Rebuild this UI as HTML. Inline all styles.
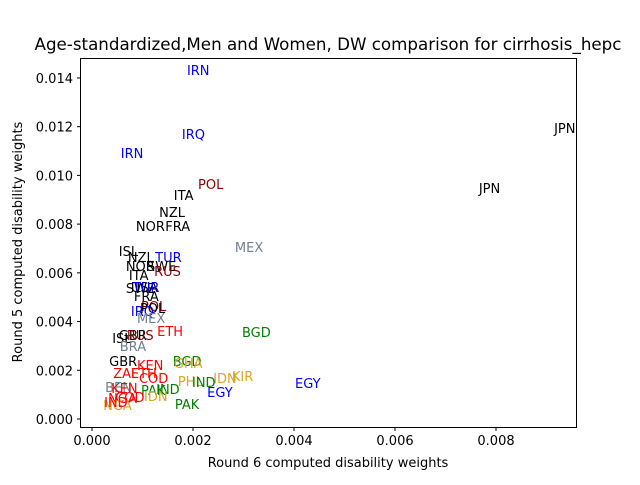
<!DOCTYPE html>
<html><head><meta charset="utf-8"><style>
body{margin:0;background:#fff}
svg text{font-family:"DejaVu Sans","Liberation Sans",sans-serif}
</style></head><body>
<svg id="chart" width="640" height="480" xmlns="http://www.w3.org/2000/svg">
<rect width="640" height="480" fill="#fff"/>
<text x="328" y="50" font-size="16.7" text-anchor="middle">Age-standardized,Men and Women, DW comparison for cirrhosis_hepc</text>
<text x="328" y="467" font-size="13" text-anchor="middle">Round 6 computed disability weights</text>
<text transform="translate(22,242) rotate(-90)" font-size="13" text-anchor="middle">Round 5 computed disability weights</text>
<g id="ticks"></g>
<g id="labels"></g>
<rect x="80.5" y="58.5" width="496" height="369" fill="none" stroke="#000" stroke-width="1"/>
</svg>
<script>
const names=["IRN","JPN","IRQ","IRN","POL","JPN","ITA","NZL","NOR","FRA","MEX","ISL","NZL","TUR","NOR","SWE","RUS","ITA","USA","SWE","TUR","FRA","POL","POL","IRQ","MEX","ETH","ISL","GBR","RUS","BRA","BGD","GBR","KEN","BGD","GHA","ZAF","ETH","COD","IDN","KIR","PHL","IND","EGY","BEN","KEN","PAK","IND","EGY","NGA","COD","IDN","PAK","NGA","IND"];
const xVals=[0.00188,0.00915,0.00178,0.00057,0.00210,0.00766,0.00162,0.00133,0.00087,0.00145,0.00283,0.00053,0.00071,0.00125,0.00067,0.00109,0.00123,0.00073,0.00077,0.00067,0.00081,0.00083,0.00097,0.00095,0.00077,0.00089,0.00129,0.00040,0.00053,0.00069,0.00055,0.00297,0.00034,0.00089,0.00160,0.00162,0.00042,0.00077,0.00093,0.00240,0.00277,0.00170,0.00198,0.00402,0.00026,0.00038,0.00097,0.00127,0.00228,0.00032,0.00046,0.00103,0.00164,0.00022,0.00024];
const yVals=[0.01412,0.01174,0.01149,0.01071,0.00944,0.00928,0.00899,0.00829,0.00772,0.00772,0.00686,0.00669,0.00645,0.00645,0.00608,0.00608,0.00587,0.00571,0.00521,0.00517,0.00521,0.00484,0.00443,0.00435,0.00423,0.00394,0.00341,0.00312,0.00324,0.00324,0.00279,0.00337,0.00218,0.00201,0.00218,0.00209,0.00168,0.00168,0.00148,0.00148,0.00156,0.00135,0.00131,0.00127,0.00111,0.00107,0.00099,0.00103,0.00090,0.00066,0.00070,0.00074,0.00041,0.00037,0.00049];
const colors=["blue","black","blue","blue","darkred","black","black","black","black","black","slategray","black","black","blue","black","black","darkred","black","black","black","blue","black","darkred","black","blue","slategray","red","black","black","darkred","slategray","green","black","red","green","goldenrod","red","red","red","goldenrod","goldenrod","goldenrod","green","blue","slategray","red","green","green","blue","red","red","goldenrod","green","goldenrod","red"];
const xTicks=[0,0.002,0.004,0.006,0.008];
const yTicks=[0,0.002,0.004,0.006,0.008,0.010,0.012,0.014];
const xS=v=>92+v/0.001*50.5;
const yS=v=>419-v/0.001*24.36;
const NS="http://www.w3.org/2000/svg";
const tg=document.getElementById('ticks'), lg=document.getElementById('labels');
xTicks.forEach(t=>{
  const x=xS(t);
  const l=document.createElementNS(NS,'line');
  l.setAttribute('x1',x);l.setAttribute('x2',x);l.setAttribute('y1',427.5);l.setAttribute('y2',431);l.setAttribute('stroke','#000');
  
  
  tg.appendChild(l);
  const tx=document.createElementNS(NS,'text');
  tx.setAttribute('x',x);tx.setAttribute('y',445);tx.setAttribute('font-size','13');tx.setAttribute('text-anchor','middle');
  tx.textContent=t.toFixed(3);
  
  
  tg.appendChild(tx);
});
yTicks.forEach(t=>{
  const y=yS(t);
  const l=document.createElementNS(NS,'line');
  l.setAttribute('x1',77);l.setAttribute('x2',80.5);l.setAttribute('y1',y);l.setAttribute('y2',y);l.setAttribute('stroke','#000');
  
  
  tg.appendChild(l);
  const tx=document.createElementNS(NS,'text');
  tx.setAttribute('x',73);tx.setAttribute('y',y+5);tx.setAttribute('font-size','13');tx.setAttribute('text-anchor','end');
  tx.textContent=t.toFixed(3);
  
  
  tg.appendChild(tx);
});
names.forEach((n,i)=>{
  const tx=document.createElementNS(NS,'text');
  tx.setAttribute('x',xS(xVals[i]));tx.setAttribute('y',yS(yVals[i]));
  tx.setAttribute('font-size','13');tx.setAttribute('fill',colors[i]);
  tx.textContent=n;
  
  
  lg.appendChild(tx);
});
</script>
</body></html>
